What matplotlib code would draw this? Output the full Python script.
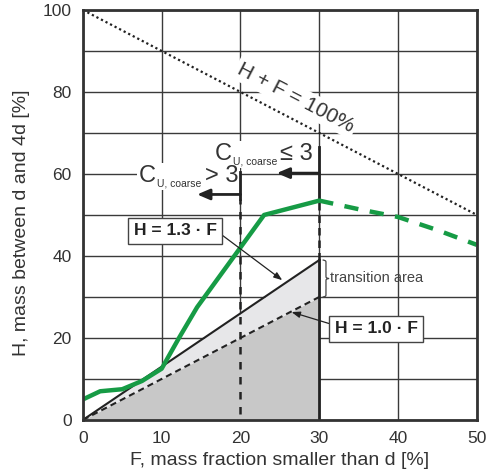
import numpy as np
import matplotlib.pyplot as plt
from matplotlib.patches import Rectangle
from matplotlib.transforms import Bbox, offset_copy

plt.rcParams['font.family'] = ['Liberation Sans', 'DejaVu Sans']

# measured grain size curve (F, H) and its extrapolation
curve_f = [0, 2.2, 5, 7.5, 10, 12.2, 14.5, 23, 30]
curve_h = [5, 7, 7.5, 9.5, 12.5, 20, 27.5, 50, 53.5]
extra_f = [30, 35, 40, 45, 50]
extra_h = [53.5, 51.4, 49.5, 46.3, 42.7]

f_limit = 30
f_cu = 20
ratio_hi = 1.3
ratio_lo = 1.0
total = 100

ink = '#222222'
grid_c = '#3a3a3a'
green = '#169b45'

fig = plt.figure(figsize=(5.02, 4.74), dpi=100)
ax = fig.add_axes([0.165, 0.114, 0.785, 0.865])
ax.set_xlim(0, 50)
ax.set_ylim(0, 100)

ax.set_xticks(range(0, 51, 10))
ax.set_yticks(range(0, 101, 20))
ax.set_yticks(range(10, 100, 20), minor=True)
ax.grid(which='both', color=grid_c, lw=1, zorder=0)
ax.set_axisbelow(True)
ax.tick_params(which='both', length=0, labelsize=12.5, labelcolor='#333333', pad=8)
for s in ax.spines.values():
    s.set_linewidth(2)
    s.set_color('#333333')
    s.set_zorder(6)

ax.set_xlabel('F, mass fraction smaller than d [%]', fontsize=14, color='#333333', labelpad=4)
ax.set_ylabel('H, mass between d and 4d [%]', fontsize=14, color='#333333')
ax.yaxis.set_label_coords(-0.135, 0.48)

# shaded zones
fx = np.array([0, f_limit])
ax.fill_between(fx, 0, ratio_lo * fx, color='#c8c8c8', lw=0, zorder=1)
ax.fill_between(fx, ratio_lo * fx, ratio_hi * fx, color='#e7e7e9', lw=0, zorder=1)
ax.plot(fx, ratio_hi * fx, color=ink, lw=1.5, zorder=3)
ax.plot(fx, ratio_lo * fx, color=ink, lw=1.5, ls=(0, (3, 2)), zorder=3)

# H + F = 100 %
hx = np.array([0, 50])
ax.plot(hx, total - hx, color=ink, lw=1.6, ls=(0, (1, 1.3)), zorder=3)

# vertical boundaries
top30 = ratio_hi * f_limit
ax.plot([f_limit, f_limit], [0, top30], color=ink, lw=2, zorder=3)
ax.plot([f_limit, f_limit], [top30, curve_h[-1]], color=ink, lw=1.8, ls=(0, (3, 2)), zorder=3)
ax.plot([f_limit, f_limit], [curve_h[-1], 66.5], color=ink, lw=2, zorder=3)
ax.plot([f_cu, f_cu], [1.5, 54], color=ink, lw=1.8, ls=(0, (3, 3)), zorder=3)
ax.plot([f_cu, f_cu], [54, 60.5], color=ink, lw=2, zorder=3)

arr = dict(arrowstyle='-|>,head_length=0.75,head_width=0.32', lw=2, color=ink,
           shrinkA=0, shrinkB=0)
ax.annotate('', xy=(14.5, 55), xytext=(f_cu, 55), arrowprops=arr, zorder=4)
ax.annotate('', xy=(24.6, 60.2), xytext=(f_limit, 60.2), arrowprops=arr, zorder=4)

# grain curve
ax.plot(curve_f, curve_h, color=green, lw=3.2, solid_capstyle='round',
        solid_joinstyle='round', zorder=5)
ax.plot(extra_f, extra_h, color=green, lw=3.2, ls=(0, (3.2, 2.6)), zorder=5)

# C_U labels built from pieces: big C, small subscript, big relation
renderer = fig.canvas.get_renderer()


def cu_label(x_right, y_base, rel):
    kw = dict(color='#333333', va='baseline', ha='right', zorder=2.5)
    t3 = ax.text(x_right, y_base, rel + ' 3', fontsize=17, **kw)
    w3 = t3.get_window_extent(renderer).width * 72 / fig.dpi
    tr2 = offset_copy(ax.transData, fig=fig, x=-(w3 + 2), y=-3, units='points')
    t2 = ax.text(x_right, y_base, 'U, coarse', fontsize=7.5, transform=tr2, **kw)
    w2 = t2.get_window_extent(renderer).width * 72 / fig.dpi
    tr1 = offset_copy(ax.transData, fig=fig, x=-(w3 + w2 + 3), y=0, units='points')
    t1 = ax.text(x_right, y_base, 'C', fontsize=17, transform=tr1, **kw)
    bb = Bbox.union([t.get_window_extent(renderer) for t in (t1, t2, t3)])
    bb = bb.padded(2)
    (x0, y0), (x1, y1) = ax.transData.inverted().transform(bb.get_points())
    ax.add_patch(Rectangle((x0, y0), x1 - x0, y1 - y0, fc='white', ec='none', zorder=2))


cu_label(19.7, 58, '>')
cu_label(29.2, 63.4, '≤')

p0 = ax.transData.transform((0, 100))
p1 = ax.transData.transform((50, 50))
ang = np.degrees(np.arctan2(p1[1] - p0[1], p1[0] - p0[0]))
ax.text(27.0, 78.6, 'H + F = 100%', fontsize=15, color='#333333', rotation=ang,
        rotation_mode='anchor', ha='center', va='center',
        bbox=dict(fc='white', ec='none', pad=2), zorder=2)

box = dict(boxstyle='square,pad=0.3', fc='white', ec='#444444', lw=1)
thin = dict(arrowstyle='-|>,head_length=0.4,head_width=0.15', lw=0.9, color=ink,
            shrinkA=0, shrinkB=0, relpos=(1, 0.5))
ax.annotate('H = 1.3 · F', xy=(25.3, 34.1), xytext=(11.7, 46.1), fontsize=12.5,
            fontweight='bold', color=ink, ha='center', va='center', bbox=box,
            arrowprops=thin, zorder=6)
thin2 = dict(thin, relpos=(0, 0.75))
ax.annotate('H = 1.0 · F', xy=(26.5, 26.3), xytext=(37.2, 22.2), fontsize=12.5,
            fontweight='bold', color=ink, ha='center', va='center', bbox=box,
            arrowprops=thin2, zorder=6)

# brace for transition zone
lo30 = ratio_lo * f_limit
half = (top30 - lo30) / 2
s = np.linspace(0, half, 60)
b = 1 / (1 + np.exp(-12 * s)) + 1 / (1 + np.exp(-12 * (s - half)))
b = (b - b.min()) / (b.max() - b.min())
bx = np.concatenate([b, b[::-1]]) * 0.7 + 30.5
by = np.concatenate([lo30 + s, top30 - s[::-1]])
ax.plot(bx, by, color='#444444', lw=0.9, zorder=4)
ax.text(31.4, 34.6, 'transition area', fontsize=10.5, color='#444444',
        ha='left', va='center', zorder=4)

fig.savefig('out.png', dpi=100)
